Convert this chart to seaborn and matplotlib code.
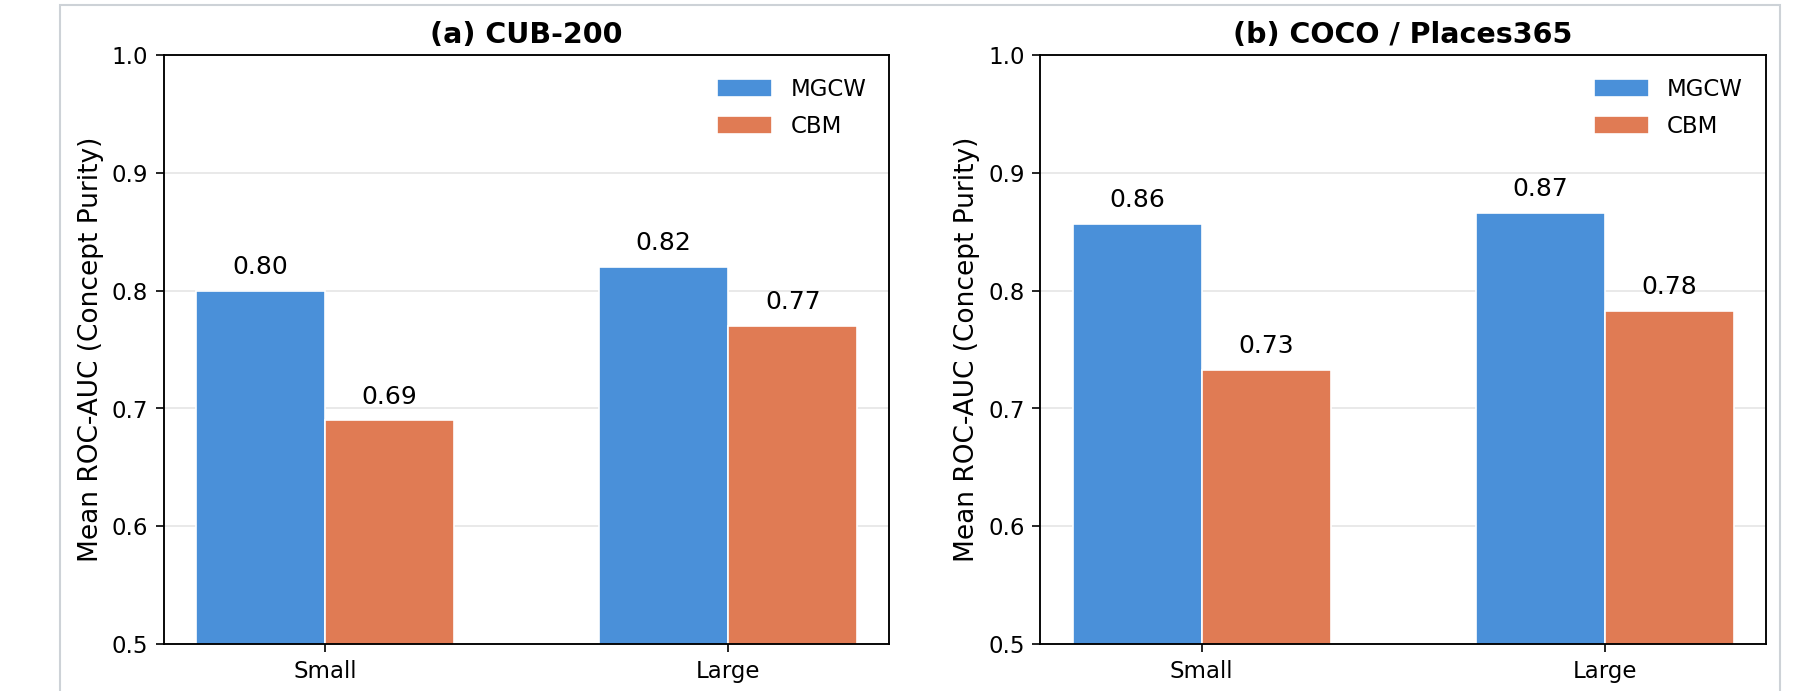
import pandas as pd
import numpy as np
import matplotlib.pyplot as plt
import seaborn as sns
from matplotlib.patches import Rectangle

# Values
sizes = ["Small", "Large"]
methods = ["MGCW", "CBM"]
cub_mgcw = [0.80, 0.82]
cub_cbm = [0.69, 0.77]
coco_mgcw = [0.857, 0.866]
coco_cbm = [0.733, 0.783]
titles = ["(a) CUB-200", "(b) COCO / Places365"]
colors = ["#4a90d9", "#e07b54"]


def make_df(mgcw, cbm):
    return pd.DataFrame({
        "size": sizes * 2,
        "method": [methods[0]] * 2 + [methods[1]] * 2,
        "auc": list(mgcw) + list(cbm),
    })


sns.set_style("ticks", {"text.color": "black", "axes.labelcolor": "black",
                        "xtick.color": "black", "ytick.color": "black",
                        "axes.edgecolor": "black"})
plt.rcParams["font.family"] = ["DejaVu Sans"]

fig, axes = plt.subplots(1, 2, figsize=(12, 4.607), dpi=150)
fig.subplots_adjust(left=0.0911, right=0.981, bottom=0.068, top=0.920, wspace=0.208)

panels = [make_df(cub_mgcw, cub_cbm), make_df(coco_mgcw, coco_cbm)]

for ax, df, title in zip(axes, panels, titles):
    sns.barplot(data=df, x="size", y="auc", hue="method", palette=colors,
                saturation=1, width=0.64, gap=0, edgecolor="white",
                linewidth=0.8, errorbar=None, ax=ax)
    for cont in ax.containers:
        for p in cont:
            h = p.get_height()
            ax.text(p.get_x() + p.get_width() / 2, h + 0.01, f"{h:.2f}",
                    ha="center", va="bottom", fontsize=12, color="black")
    ax.set_ylim(0.5, 1.0)
    ax.set_xlim(-0.4, 1.4)
    ax.set_yticks(np.arange(0.5, 1.01, 0.1))
    ax.yaxis.grid(True, color="#e5e5e5", linewidth=0.8)
    ax.set_axisbelow(True)
    for s in ax.spines.values():
        s.set_visible(True)
        s.set_color("black")
        s.set_linewidth(0.9)
    ax.tick_params(labelsize=11, length=4, width=0.8, colors="black")
    ax.set_xlabel("")
    ax.set_ylabel("Mean ROC-AUC (Concept Purity)", fontsize=12.7)
    ax.set_title(title, fontsize=13.7, fontweight="bold", pad=6)
    ax.legend(frameon=False, loc="upper right", fontsize=11,
              handlelength=2.4, handleheight=0.8, borderaxespad=0.6,
              labelspacing=0.6)

# light frame around the figure, as in the reference screenshot
fig.add_artist(Rectangle((60 / 1800, -0.1), (1780 - 60) / 1800, 1.1 - 5 / 691,
                         transform=fig.transFigure, fill=False,
                         edgecolor="#cdd2d7", linewidth=1.0))

fig.savefig("out.png", dpi=150)
